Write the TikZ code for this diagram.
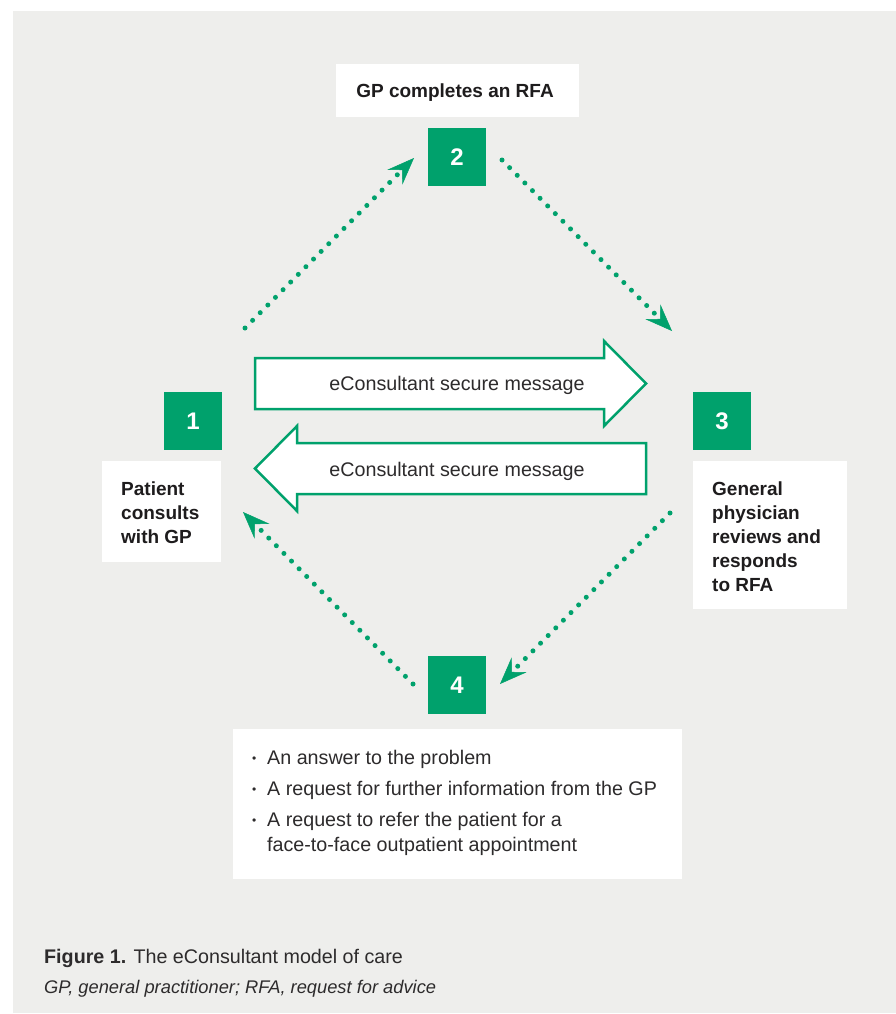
\documentclass[tikz,border=0pt]{standalone}
\usepackage{fontspec}
\setmainfont{Liberation Sans}
\usetikzlibrary{arrows.meta}
\definecolor{gbg}{RGB}{238,238,236}
\definecolor{grn}{RGB}{0,161,108}
\definecolor{ink}{RGB}{30,28,29}
\definecolor{inkr}{RGB}{45,43,44}
\begin{document}
\begin{tikzpicture}[x=1pt,y=-1pt,
  numbox/.style={fill=grn, minimum size=58pt, inner sep=0pt, text=white, font=\fontsize{24}{24}\selectfont\bfseries},
  wbox/.style={fill=white, draw=none, inner sep=0pt},
  lblb/.style={inner sep=0pt, anchor=base west, text=ink, font=\fontsize{19}{24}\selectfont\bfseries},
  lblr/.style={inner sep=0pt, anchor=base west, text=inkr, font=\fontsize{19.7}{24}\selectfont},
  lbli/.style={inner sep=0pt, anchor=base west, text=inkr, font=\fontsize{18.3}{24}\selectfont\itshape},
  lblc/.style={inner sep=0pt, anchor=base, text=inkr, font=\fontsize{19.7}{24}\selectfont},
  bul/.style={inner sep=0pt, anchor=base west, text=inkr, font=\fontsize{12}{12}\selectfont},
  dots/.style={grn, line width=5pt, line cap=round, dash pattern=on 0pt off 10.8pt,
    -{Stealth[length=27pt,width=21pt,inset=10pt,line width=0.5pt]}},
  bigarrow/.style={draw=grn, fill=white, line width=2.5pt, line join=miter}
]
\useasboundingbox (0,0) rectangle (896,1014);
\fill[gbg] (13,11) rectangle (896,1013);

% white label boxes
\node[wbox, minimum width=243pt, minimum height=53pt] (w2) at (457.5,90.5) {};
\node[wbox, minimum width=119pt, minimum height=101pt] (w1) at (161.5,511.5) {};
\node[wbox, minimum width=154pt, minimum height=148pt] (w3) at (770,535) {};
\node[wbox, minimum width=449pt, minimum height=150pt] (w4) at (457.5,804) {};

% numbered squares
\node[numbox] (n1) at (193,421) {1};
\node[numbox] (n2) at (457,157) {2};
\node[numbox] (n3) at (722,421) {3};
\node[numbox] (n4) at (457,685) {4};

% labels
\node[lblb, anchor=base] (t2) at (455,98) {GP completes an RFA};
\node[lblb] (t1a) at (121,495) {Patient};
\node[lblb] (t1b) at (121,519) {consults};
\node[lblb] (t1c) at (121,543) {with GP};
\node[lblb] (t3a) at (712,495) {General};
\node[lblb] (t3b) at (712,519) {physician};
\node[lblb] (t3c) at (712,543) {reviews and};
\node[lblb] (t3d) at (712,567) {responds};
\node[lblb] (t3e) at (712,591) {to RFA};

% bullet list
\node[bul] (b1) at (252,762) {•};
\node[lblr] (l1) at (267,764) {An answer to the problem};
\node[bul] (b2) at (252,793) {•};
\node[lblr] (l2) at (267,795) {A request for further information from the GP};
\node[bul] (b3) at (252,824) {•};
\node[lblr] (l3) at (267,826) {A request to refer the patient for a};
\node[lblr] (l4) at (267,851) {face-to-face outpatient appointment};

% big message arrows
\draw[bigarrow] (255,358) -- (604,358) -- (604,341) -- (646,383.5) -- (604,426) -- (604,409) -- (255,409) -- cycle;
\node[lblc] (m1) at (457,390) {eConsultant secure message};
\draw[bigarrow] (646,443) -- (297,443) -- (297,426) -- (255,468.5) -- (297,511) -- (297,494) -- (646,494) -- cycle;
\node[lblc] (m2) at (457,476) {eConsultant secure message};

% dotted cycle arrows
\coordinate (s12) at (245,328);
\coordinate (e12) at (414,158);
\coordinate (s23) at (502,160);
\coordinate (e23) at (672,331);
\coordinate (s34) at (670,513);
\coordinate (e34) at (500,684);
\coordinate (s41) at (413,684);
\coordinate (e41) at (243,512);
\draw[dots] (s12) -- (e12);
\draw[dots] (s23) -- (e23);
\draw[dots] (s34) -- (e34);
\draw[dots] (s41) -- (e41);

% caption
\node[lblr] (cap1) at (44,963) {\textbf{Figure 1.} The eConsultant model of care};
\node[lbli] (cap2) at (44,993) {GP, general practitioner; RFA, request for advice};
\end{tikzpicture}
\end{document}
